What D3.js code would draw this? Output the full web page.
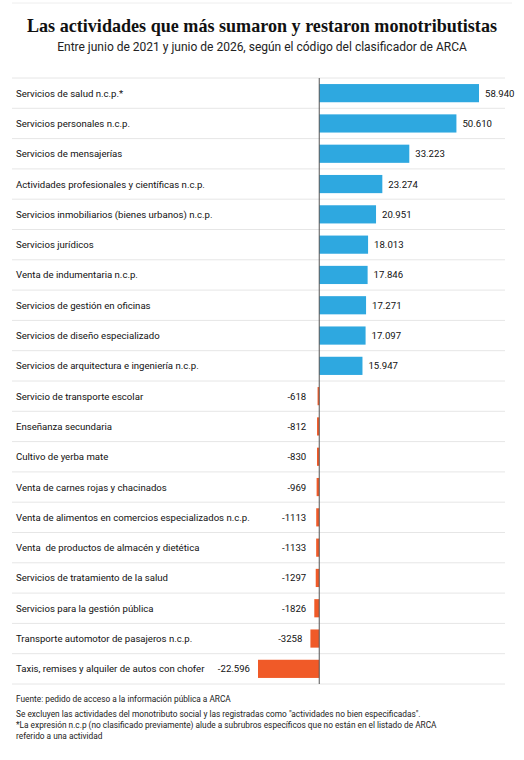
<!DOCTYPE html><html><head><meta charset="utf-8"><script src="https://cdn.jsdelivr.net/npm/d3@7"></script>
<style>body{margin:0;background:#fff} text{white-space:pre}</style></head><body><svg id="c" width="524" height="760"></svg>
<script>
const categories=["Servicios de salud n.c.p.*","Servicios personales n.c.p.","Servicios de mensajerías","Actividades profesionales y científicas n.c.p.","Servicios inmobiliarios (bienes urbanos) n.c.p.","Servicios jurídicos","Venta de indumentaria n.c.p.","Servicios de gestión en oficinas","Servicios de diseño especializado","Servicios de arquitectura e ingeniería n.c.p.","Servicio de transporte escolar","Enseñanza secundaria","Cultivo de yerba mate","Venta de carnes rojas y chacinados","Venta de alimentos en comercios especializados n.c.p.","Venta  de productos de almacén y dietética","Servicios de tratamiento de la salud","Servicios para la gestión pública","Transporte automotor de pasajeros n.c.p.","Taxis, remises y alquiler de autos con chofer"];
const values=[58940,50610,33223,23274,20951,18013,17846,17271,17097,15947,-618,-812,-830,-969,-1113,-1133,-1297,-1826,-3258,-22596];
const labels=["58.940","50.610","33.223","23.274","20.951","18.013","17.846","17.271","17.097","15.947","-618","-812","-830","-969","-1113","-1133","-1297","-1826","-3258","-22.596"];
const svg=d3.select("#c");const F="Roboto, 'Noto Sans', sans-serif";
svg.append("line").attr("x1",12).attr("x2",512).attr("y1",3).attr("y2",3).attr("stroke","#eee");
svg.append("text").attr("x",27).attr("y",32).attr("textLength",470).attr("lengthAdjust","spacingAndGlyphs").attr("font-family","'Liberation Serif', serif").attr("font-weight","bold").attr("font-size",19).attr("fill","#111").text("Las actividades que más sumaron y restaron monotributistas");
svg.append("text").attr("x",262).attr("y",51).attr("text-anchor","middle").attr("font-family",F).attr("font-size",12).attr("fill","#222").text("Entre junio de 2021 y junio de 2026, según el código del clasificador de ARCA");
const x=d3.scaleLinear().domain([-22596,58940]).range([258,479]);
const y=d3.scaleBand().domain(categories).range([78,684]).paddingInner(0.4).paddingOuter(0.2);
const step=y.step();
categories.forEach((c,i)=>{const yc=y(c)+y.bandwidth()/2;
 svg.append("line").attr("x1",12).attr("x2",505).attr("y1",yc-step/2).attr("y2",yc-step/2).attr("stroke","#e6e6e6");
 svg.append("text").attr("x",16).attr("y",yc+3.5).attr("font-family",F).attr("font-size",9.6).attr("fill","#111").text(c);
});
svg.append("line").attr("x1",12).attr("x2",505).attr("y1",684).attr("y2",684).attr("stroke","#e6e6e6");
svg.selectAll("rect.b").data(values).join("rect").attr("x",d=>x(Math.min(0,d))).attr("width",d=>Math.abs(x(d)-x(0))).attr("y",(d,i)=>y(categories[i])).attr("height",y.bandwidth()).attr("fill",d=>d>=0?"#2ea8e0":"#f05a28");
svg.selectAll("text.v").data(values).join("text").attr("font-family",F).attr("font-size",9.6).attr("fill","#111")
 .attr("x",d=>d>=0?x(d)+6:Math.min(x(d),x(0)-5)-8).attr("text-anchor",d=>d>=0?"start":"end")
 .attr("y",(d,i)=>y(categories[i])+y.bandwidth()/2+3.5).text((d,i)=>labels[i]);
svg.append("line").attr("x1",x(0)).attr("x2",x(0)).attr("y1",78).attr("y2",684).attr("stroke","#555");
const notes=[["Fuente: pedido de acceso a la información pública a ARCA",702],["Se excluyen las actividades del monotributo social y las registradas como \"actividades no bien especificadas\".",717],["*La expresión n.c.p (no clasificado previamente) alude a subrubros específicos que no están en el listado de ARCA",728],["referido a una actividad",739]];
notes.forEach(n=>svg.append("text").attr("x",16).attr("y",n[1]).attr("font-family",F).attr("font-size",8.3).attr("fill","#222").text(n[0]));
</script></body></html>
